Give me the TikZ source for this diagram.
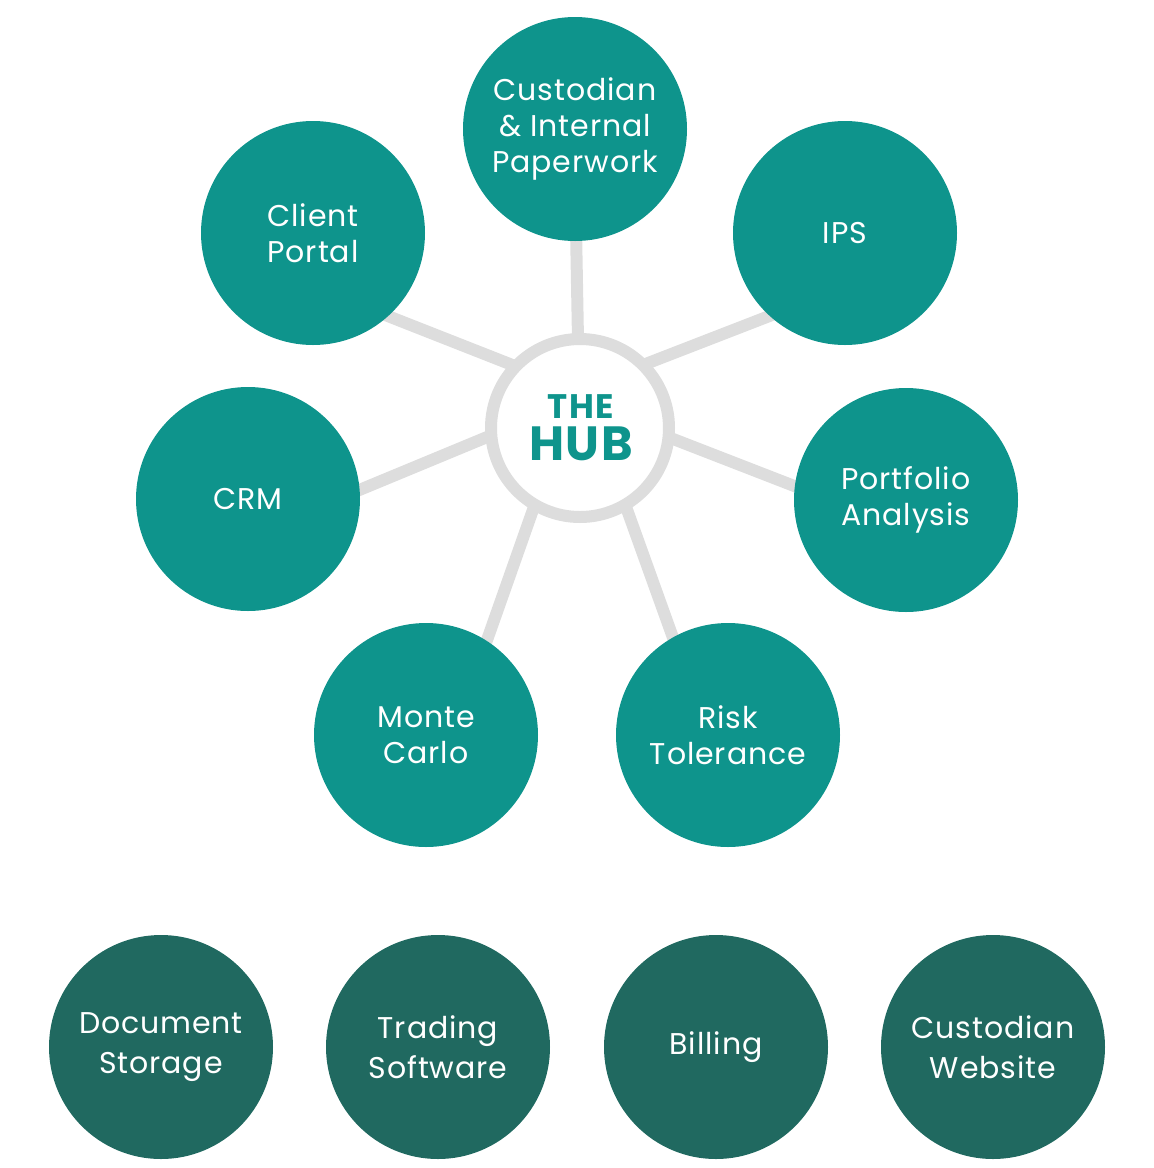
\documentclass[tikz,border=0pt]{standalone}
\usepackage{fontspec}
\setmainfont{Poppins}
\usetikzlibrary{backgrounds,calc}
\definecolor{teal1}{HTML}{0E948C}
\definecolor{dark1}{HTML}{206960}
\definecolor{spokegray}{HTML}{DDDDDD}
\begin{document}
\begin{tikzpicture}[x=1pt,y=-1pt,
  bubble/.style={circle,minimum size=224pt,inner sep=0pt,outer sep=0pt,fill=teal1,text=white,align=center,font=\addfontfeatures{LetterSpace=3}\fontsize{30}{36}\selectfont},
  darkbubble/.style={bubble,fill=dark1,font=\addfontfeatures{LetterSpace=3}\fontsize{30}{40}\selectfont},
  spoke/.style={draw=spokegray,line width=12pt},
  hubring/.style={circle,draw=spokegray,line width=12pt,fill=white,minimum size=178pt,inner sep=0pt,outer sep=0pt},
  hubtext/.style={text=teal1,anchor=base,inner sep=0pt}]
\useasboundingbox (0,0) rectangle (1154,1168);
\node[bubble] (cust) at (575,129) {Custodian\\\& Internal\\Paperwork};
\node[bubble] (cp) at (313,233) {Client\\Portal};
\node[bubble] (ips) at (845,233) {IPS};
\node[bubble] (crm) at (248,499) {CRM};
\node[bubble] (pa) at (906,500) {Portfolio\\Analysis};
\node[bubble] (mc) at (426,735) {Monte\\Carlo};
\node[bubble] (rt) at (728,735) {Risk\\Tolerance};
\node[hubring] (hub) at (580,428) {};
\node[hubtext,font=\bfseries\addfontfeatures{LetterSpace=5}\fontsize{34}{34}\selectfont] (the) at (581,418) {THE};
\node[hubtext,font=\bfseries\addfontfeatures{LetterSpace=3}\fontsize{48}{48}\selectfont] (hubtxt) at (581,460) {HUB};
\node[darkbubble] (ds) at (161,1047) {Document\\Storage};
\node[darkbubble] (ts) at (438,1047) {Trading\\Software};
\node[darkbubble] (bi) at (716,1047) {Billing};
\node[darkbubble] (cw) at (993,1047) {Custodian\\Website};
\begin{scope}[on background layer]
\draw[spoke] ($(hub)+(-2,-88)$) -- ($(cust)+(1,99)$);
\draw[spoke] ($(hub)+(-60,-60)$) -- ($(cp)+(57,76)$);
\draw[spoke] ($(hub)+(-88,7)$) -- ($(crm)+(92,-1)$);
\draw[spoke] ($(hub)+(63,-63)$) -- ($(ips)+(-55,75)$);
\draw[spoke] ($(hub)+(88,9)$) -- ($(pa)+(-86,-4)$);
\draw[spoke] ($(hub)+(-45,76)$) -- ($(mc)+(54,-75)$);
\draw[spoke] ($(hub)+(45,76)$) -- ($(rt)+(-47,-75)$);
\end{scope}
\end{tikzpicture}
\end{document}
